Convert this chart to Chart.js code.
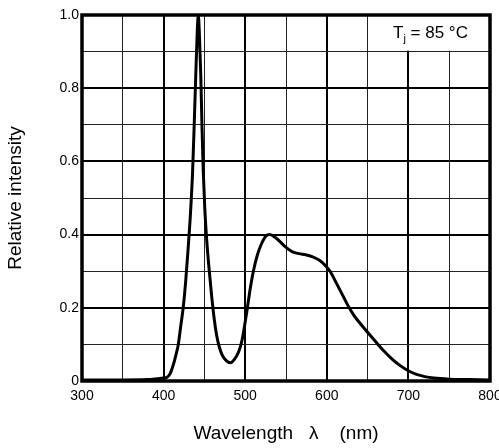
<!DOCTYPE html>
<html>
<head>
<meta charset="utf-8">
<script src="https://cdn.jsdelivr.net/npm/chart.js@4.4.1/dist/chart.umd.min.js"></script>
<style>
  html, body { margin: 0; padding: 0; background: #fff; }
  #wrap { width: 499px; height: 448px; position: relative; }
</style>
</head>
<body>
<div id="wrap"><canvas id="chart"></canvas></div>
<script>
// Spectrum data
const wavelength = [300, 350, 380, 395, 404, 408, 412, 415, 418, 421, 424, 427, 430, 433, 435.5, 437.5, 439.5, 441, 442.5,
  444, 445.5, 447, 448.5, 450.5, 453, 456, 459, 462, 465, 468, 472, 477, 482, 487, 492, 496, 502, 506, 510, 515, 520, 525, 530,
  537, 543, 550, 558, 566, 574, 582, 591, 598, 604, 610, 617, 625, 633, 641, 650, 660, 670, 680, 690, 700,
  710, 720, 731, 750, 775, 800];
const intensity = [0.003, 0.003, 0.004, 0.007, 0.01, 0.02, 0.045, 0.07, 0.10, 0.15, 0.20, 0.27, 0.36, 0.46, 0.57, 0.70, 0.84, 0.94, 1.0,
  0.94, 0.84, 0.70, 0.58, 0.47, 0.38, 0.30, 0.23, 0.17, 0.125, 0.095, 0.07, 0.055, 0.05, 0.06, 0.08, 0.11, 0.19, 0.25, 0.30, 0.345, 0.375, 0.395, 0.40,
  0.392, 0.38, 0.365, 0.353, 0.348, 0.345, 0.34, 0.33, 0.316, 0.30, 0.275, 0.245, 0.21, 0.18, 0.157, 0.133, 0.107, 0.082, 0.06, 0.042, 0.028,
  0.018, 0.012, 0.008, 0.005, 0.004, 0.003];

const xTicks = [300, 400, 500, 600, 700, 800];
const yTicks = ["0", "0.2", "0.4", "0.6", "0.8", "1.0"];
const noteText = "T";
const noteSub = "j";
const noteRest = " = 85 \u00B0C";

const FONT = "'Liberation Sans', Arial, sans-serif";

// frame + note box drawn over the grid
const framePlugin = {
  id: "frame",
  beforeDatasetsDraw(chart) {
    const { ctx, chartArea: a, scales: { x, y } } = chart;
    ctx.save();
    // white box for the temperature note
    const bx = x.getPixelForValue(650), by = y.getPixelForValue(0.9);
    ctx.fillStyle = "#fff";
    ctx.fillRect(bx + 1, a.top, a.right - bx - 1, by - a.top - 1);
    ctx.fillStyle = "#000";
    ctx.font = "17px " + FONT;
    ctx.textBaseline = "middle";
    let tx = 393, ty = (a.top + by) / 2;
    ctx.fillText(noteText, tx, ty);
    tx += ctx.measureText(noteText).width;
    ctx.font = "11px " + FONT;
    ctx.fillText(noteSub, tx, ty + 6);
    tx += ctx.measureText(noteSub).width;
    ctx.font = "17px " + FONT;
    ctx.fillText(noteRest, tx, ty);
    // thick frame
    ctx.strokeStyle = "#000";
    ctx.lineWidth = 3.5;
    ctx.strokeRect(a.left, a.top, a.right - a.left, a.bottom - a.top);
    ctx.restore();
  }
};

new Chart(document.getElementById("chart"), {
  type: "line",
  data: {
    datasets: [{
      data: wavelength.map((w, i) => ({ x: w, y: intensity[i] })),
      borderColor: "#000",
      borderWidth: 3,
      pointRadius: 0,
      cubicInterpolationMode: "monotone",
      fill: false
    }]
  },
  options: {
    responsive: true,
    maintainAspectRatio: false,
    animation: false,
    layout: { padding: { top: 15, right: 9, left: 0, bottom: 0 } },
    plugins: { legend: { display: false }, tooltip: { enabled: false } },
    scales: {
      x: {
        type: "linear",
        min: 300, max: 800,
        afterFit: (s) => { s.height = 67; s.paddingLeft = 0; s.paddingRight = 0; },
        ticks: {
          stepSize: 50,
          autoSkip: false,
          maxRotation: 0,
          padding: 7,
          color: "#000",
          font: { family: FONT, size: 14 },
          callback: (v) => xTicks.includes(v) ? String(v) : ""
        },
        grid: {
          drawTicks: false,
          color: (c) => c.tick && c.tick.value % 100 === 0 ? "#000" : "#222",
          lineWidth: (c) => c.tick && c.tick.value % 100 === 0 ? 2 : 1
        },
        border: { display: false },
        title: {
          display: true,
          text: "Wavelength   \u03BB    (nm)",
          color: "#000",
          font: { family: FONT, size: 19 },
          padding: { top: 0, bottom: 3 }
        }
      },
      y: {
        min: 0, max: 1,
        afterFit: (s) => { s.width = 82; },
        ticks: {
          stepSize: 0.1,
          autoSkip: false,
          padding: 3,
          color: "#000",
          font: { family: FONT, size: 14 },
          callback: (v) => {
            const k = Math.round(v * 10);
            return k % 2 === 0 ? yTicks[k / 2] : "";
          }
        },
        grid: {
          drawTicks: false,
          color: (c) => c.tick && Math.round(c.tick.value * 10) % 2 === 0 ? "#000" : "#222",
          lineWidth: (c) => c.tick && Math.round(c.tick.value * 10) % 2 === 0 ? 2 : 1
        },
        border: { display: false },
        title: {
          display: true,
          text: "Relative intensity",
          color: "#000",
          font: { family: FONT, size: 19 },
          padding: { top: 4, bottom: 0 }
        }
      }
    }
  },
  plugins: [framePlugin]
});
</script>
</body>
</html>
